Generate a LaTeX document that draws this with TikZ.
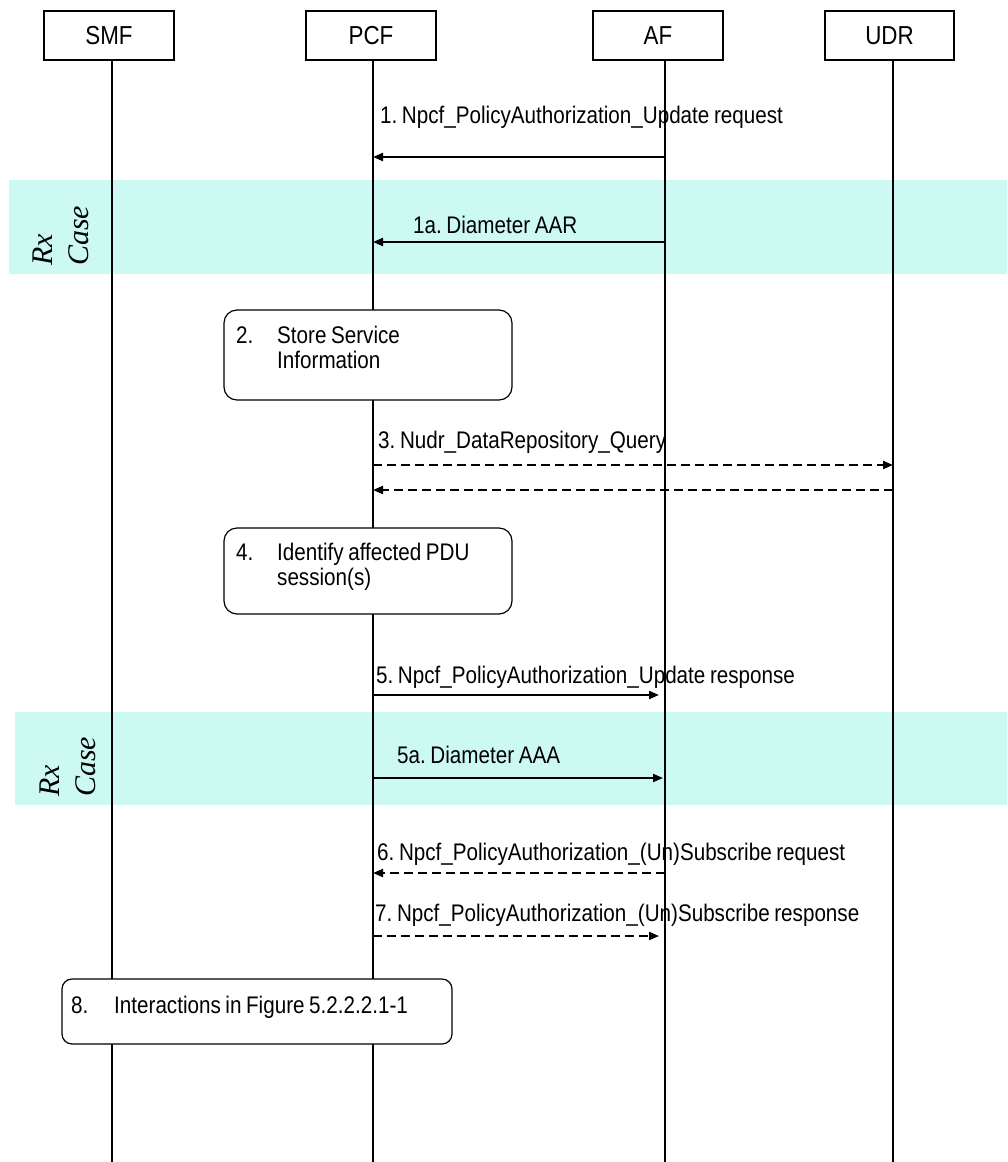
\documentclass[tikz,border=0pt]{standalone}
\usepackage{fontspec}
\setmainfont{Liberation Sans}[FakeStretch=0.86,WordSpace=0.8]
\newfontfamily\rxfont{Liberation Serif}
\usetikzlibrary{arrows.meta}
\definecolor{rxband}{RGB}{204,250,243}
\begin{document}
\begin{tikzpicture}[x=1pt,y=-1pt,
  hdr/.style={draw, line width=1.2pt, minimum width=130pt, minimum height=49pt, inner sep=0pt, font=\fontsize{26}{30}\selectfont},
  life/.style={line width=1.3pt},
  msg/.style={line width=2pt, -{Triangle[length=10pt,width=8pt]}},
  dmsg/.style={msg, dash pattern=on 9pt off 5pt},
  lbl/.style={anchor=base west, inner sep=0pt, font=\frenchspacing\fontsize{24}{28}\selectfont},
  act/.style={draw, line width=1.2pt, rounded corners=13pt, fill=white, inner sep=0pt},
  band/.style={fill=rxband, draw=none},
  rx/.style={rotate=90, anchor=south west, inner sep=0pt, align=left, font=\rxfont\itshape\fontsize{30}{36}\selectfont}
]
\useasboundingbox (0,0) rectangle (1007,1162);

% Rx bands
\path[band] (9,180) rectangle (1007,274);
\path[band] (15,712) rectangle (1007,805);
\node[rx] (rx1) at (89,266) {Rx\\Case};
\node[rx] (rx2) at (96,797) {Rx\\Case};

% headers
\node[hdr] (smf) at (109,35.5) {SMF};
\node[hdr] (pcf) at (371,35.5) {PCF};
\node[hdr] (af) at (658,35.5) {AF};
\node[hdr, minimum width=129pt] (udr) at (889.5,35.5) {UDR};

% lifelines
\coordinate (smfT) at (112,60);  \coordinate (smfB) at (112,1162);
\coordinate (pcfT) at (373,60);  \coordinate (pcfB) at (373,1162);
\coordinate (afT) at (665,60);   \coordinate (afB) at (665,1162);
\coordinate (udrT) at (893,60);  \coordinate (udrB) at (893,1162);
\draw[life] (smfT) -- (smfB);
\draw[life] (pcfT) -- (pcfB);
\draw[life] (afT) -- (afB);
\draw[life] (udrT) -- (udrB);

% 1
\coordinate (m1s) at (665,157); \coordinate (m1e) at (373,157);
\draw[msg] (m1s) -- (m1e);
\node[lbl] (l1) at (380,123) {1. Npcf\_PolicyAuthorization\_Update request};
% 1a
\coordinate (m1as) at (665,242); \coordinate (m1ae) at (373,242);
\draw[msg] (m1as) -- (m1ae);
\node[lbl] (l1a) at (413,233) {1a. Diameter AAR};

% 2
\node[act, minimum width=288pt, minimum height=90pt] (b2) at (368,355) {};
\node[lbl] (b2n) at (236,343) {2.};
\node[lbl] (b2t1) at (277,343) {Store Service};
\node[lbl] (b2t2) at (277,368) {Information};

% 3
\node[lbl] (l3) at (378,448) {3. Nudr\_DataRepository\_Query};
\coordinate (m3s) at (373,465); \coordinate (m3e) at (893,465);
\draw[dmsg] (m3s) -- (m3e);
\coordinate (m3rs) at (893,490); \coordinate (m3re) at (373,490);
\draw[dmsg] (m3rs) -- (m3re);

% 4
\node[act, minimum width=288pt, minimum height=86pt] (b4) at (368,571) {};
\node[lbl] (b4n) at (236,560) {4.};
\node[lbl] (b4t1) at (277,560) {Identify affected PDU};
\node[lbl] (b4t2) at (277,585) {session(s)};

% 5
\node[lbl] (l5) at (376,683) {5. Npcf\_PolicyAuthorization\_Update response};
\coordinate (m5s) at (373,695); \coordinate (m5e) at (659,695);
\draw[msg] (m5s) -- (m5e);
% 5a
\node[lbl] (l5a) at (397,763) {5a. Diameter AAA};
\coordinate (m5as) at (373,778); \coordinate (m5ae) at (663,778);
\draw[msg] (m5as) -- (m5ae);

% 6
\node[lbl] (l6) at (377,860) {6. Npcf\_PolicyAuthorization\_(Un)Subscribe request};
\coordinate (m6s) at (665,873); \coordinate (m6e) at (373,873);
\draw[dmsg] (m6s) -- (m6e);
% 7
\node[lbl] (l7) at (375,921) {7. Npcf\_PolicyAuthorization\_(Un)Subscribe response};
\coordinate (m7s) at (373,936); \coordinate (m7e) at (659,936);
\draw[dmsg] (m7s) -- (m7e);

% 8
\node[act, rounded corners=10pt, minimum width=390pt, minimum height=65pt] (b8) at (257,1011.5) {};
\node[lbl] (b8n) at (71,1013) {8.};
\node[lbl] (b8t) at (114,1013) {Interactions in Figure 5.2.2.2.1-1};
\end{tikzpicture}
\end{document}
